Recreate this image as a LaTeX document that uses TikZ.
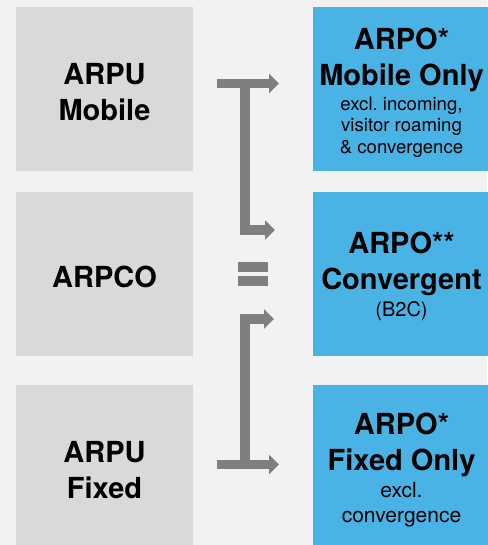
\documentclass[tikz,border=0pt]{standalone}
\usepackage{fontspec}
\setmainfont{TeX Gyre Heros}
\usetikzlibrary{positioning,arrows.meta}
\definecolor{bgcol}{HTML}{F2F2F2}
\definecolor{boxgray}{HTML}{D9D9D9}
\definecolor{boxblue}{HTML}{4AB3E6}
\definecolor{bargray}{HTML}{7F7F7F}
\frenchspacing
\newcommand{\subtxt}[2]{{\fontsize{#1}{#1}\selectfont\mdseries #2}}
\newcommand{\toprow}[1]{\rule{0pt}{#1pt}}

\begin{document}
\begin{tikzpicture}[
    x=1pt, y=-1pt,
    node distance=21pt and 120pt,
    metric/.style={fill=boxgray, minimum width=177pt, minimum height=164pt, inner sep=0pt, outer sep=0pt, align=center,
        font=\fontsize{29}{36}\selectfont\bfseries},
    target/.style={metric, fill=boxblue},
    bar/.style={draw=bargray, line width=9.5pt, -{Triangle[length=10pt,width=19pt]}}
]
\fill[bgcol] (0,0) rectangle (487,545);
\useasboundingbox (0,0) rectangle (487,545);

% left column
\node[metric] (mob) at (104.5,89) {\toprow{27}ARPU\\Mobile};
\node[metric, below=of mob] (conv) {\toprow{27}ARPCO};
\node[metric, below=29pt of conv] (fix) {\toprow{27}ARPU\\Fixed};

% right column
\node[target, right=of mob] (armob) {\toprow{29}ARPO*\\Mobile Only\\[-11pt]
    \subtxt{18.6}{excl. incoming,}\\[-14.5pt]
    \subtxt{18.6}{visitor roaming}\\[-14.5pt]
    \subtxt{18.6}{\& convergence}};
\node[target, right=of conv] (arconv) {\toprow{27}ARPO**\\Convergent\\[-9pt]
    \subtxt{20}{(B2C)}};
\node[target, right=of fix] (arfix) {\toprow{27}ARPO*\\Fixed Only\\[-9pt]
    \subtxt{21}{excl.}\\[-11pt]
    \subtxt{21}{convergence}};

% bracket ends
\coordinate (mobin) at (217,83.5);
\coordinate (mobout) at (279,83.5);
\coordinate (mobbend) at (245,83.5);
\coordinate (mobconv) at (275,230);
\coordinate (fixin) at (217,464.5);
\coordinate (fixout) at (279,464.5);
\coordinate (fixbend) at (245,464.5);
\coordinate (fixconv) at (274,319);

\draw[bar] (mobin) -- (mobout);
\draw[bar] (mobbend) |- (mobconv);
\draw[bar] (fixin) -- (fixout);
\draw[bar] (fixbend) |- (fixconv);

% equals sign
\fill[bargray] (238,262) rectangle (268,272);
\fill[bargray] (238,276) rectangle (268,286);
\end{tikzpicture}
\end{document}
